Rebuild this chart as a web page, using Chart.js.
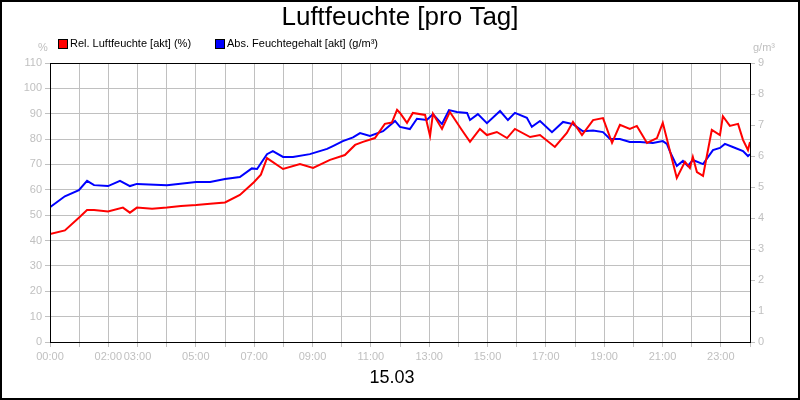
<!DOCTYPE html>
<html>
<head>
<meta charset="utf-8">
<script src="https://cdn.jsdelivr.net/npm/chart.js@4"></script>
<style>
  html, body { margin: 0; padding: 0; background: #fff; }
  #wrap { width: 800px; height: 400px; }
</style>
</head>
<body>
<div id="wrap"><canvas id="humChart" width="800" height="400"></canvas></div>
<script>
// hours of day
const relTimes = [0, 0.51, 0.99, 1.27, 1.51, 1.99, 2.5, 2.74, 2.98, 3.5, 4.01, 4.49, 5.01, 5.49, 6.0, 6.51, 6.99, 7.23, 7.44, 7.99, 8.57, 9.02, 9.6, 10.11, 10.46, 10.73, 11.14, 11.48, 11.72, 11.9, 12.0, 12.24, 12.44, 12.86, 13.03, 13.13, 13.44, 13.71, 14.12, 14.4, 14.74, 14.98, 15.32, 15.67, 15.94, 16.46, 16.8, 17.31, 17.72, 17.93, 18.24, 18.62, 18.96, 19.27, 19.54, 19.88, 20.12, 20.47, 20.81, 21.01, 21.49, 21.77, 21.94, 22.04, 22.18, 22.39, 22.69, 22.97, 23.07, 23.31, 23.59, 23.76, 23.93, 24];
const relValues = [42.6, 44, 49, 52, 52, 51.5, 53, 51, 53, 52.5, 53, 53.6, 54, 54.5, 55, 58, 63, 66, 72.5, 68.2, 70.2, 68.6, 71.8, 73.7, 77.7, 78.9, 80.4, 86, 86.5, 91.5, 90.3, 86.4, 90.3, 89.5, 81.2, 90, 84, 90.7, 83.6, 78.9, 84, 81.6, 82.8, 80.4, 84, 80.8, 81.6, 76.9, 82.4, 86.8, 81.6, 87.5, 88.3, 78.5, 85.6, 84, 85.2, 78.5, 80.4, 86.4, 64.7, 71, 68.6, 73, 67, 65.5, 83.6, 81.6, 89, 85.2, 86, 79.7, 75.7, 78.9];

const absTimes = [0, 0.51, 0.99, 1.27, 1.51, 1.99, 2.4, 2.74, 2.98, 4.01, 5.01, 5.49, 6.0, 6.51, 6.92, 7.1, 7.44, 7.64, 7.99, 8.33, 8.91, 9.5, 9.7, 10.04, 10.39, 10.63, 10.97, 11.42, 11.83, 12.0, 12.34, 12.58, 12.92, 13.13, 13.44, 13.68, 13.95, 14.3, 14.4, 14.67, 14.98, 15.43, 15.7, 15.94, 16.35, 16.52, 16.8, 17.21, 17.59, 17.93, 18.27, 18.62, 18.96, 19.2, 19.54, 19.88, 20.23, 20.67, 21.01, 21.15, 21.26, 21.49, 21.7, 21.87, 22.04, 22.39, 22.73, 22.97, 23.14, 23.41, 23.76, 23.93, 24];
const absValues = [4.35, 4.7, 4.9, 5.2, 5.06, 5.03, 5.2, 5.03, 5.1, 5.06, 5.16, 5.16, 5.26, 5.32, 5.6, 5.58, 6.06, 6.16, 5.97, 5.97, 6.06, 6.23, 6.32, 6.48, 6.6, 6.74, 6.65, 6.8, 7.13, 6.94, 6.87, 7.2, 7.16, 7.35, 7.03, 7.48, 7.42, 7.39, 7.16, 7.35, 7.06, 7.45, 7.16, 7.39, 7.23, 6.94, 7.13, 6.77, 7.1, 7.03, 6.8, 6.82, 6.77, 6.55, 6.55, 6.45, 6.45, 6.42, 6.48, 6.39, 6.13, 5.68, 5.84, 5.68, 5.87, 5.74, 6.19, 6.26, 6.39, 6.29, 6.16, 6.0, 6.06];

// only these hours get a label
const xLabelHours = [0, 2, 3, 5, 7, 9, 11, 13, 15, 17, 19, 21, 23];

const gridGrey = '#c0c0c0';
const fontName = "'Liberation Sans', Arial, sans-serif";

// title, legend, units, date and frames
const decorPlugin = {
  id: 'decor',
  afterDraw(chart) {
    const ctx = chart.ctx;
    const a = chart.chartArea;
    ctx.save();
    ctx.strokeStyle = '#000';
    ctx.lineWidth = 1;
    ctx.strokeRect(a.left + 0.5, a.top + 0.5, a.right - a.left, a.bottom - a.top);
    ctx.lineWidth = 2;
    ctx.strokeRect(1, 1, 798, 398);

    ctx.fillStyle = '#000';
    ctx.textAlign = 'center';
    ctx.textBaseline = 'middle';
    ctx.font = '26px ' + fontName;
    ctx.fillText('Luftfeuchte [pro Tag]', 400, 18);
    ctx.font = '18px ' + fontName;
    ctx.fillText('15.03', 392, 378);

    ctx.font = '11px ' + fontName;
    ctx.textAlign = 'left';
    ctx.fillStyle = '#ff0000';
    ctx.fillRect(59, 40, 8, 8);
    ctx.strokeStyle = '#000';
    ctx.lineWidth = 1;
    ctx.strokeRect(58.5, 39.5, 9, 9);
    ctx.fillStyle = '#000';
    ctx.fillText('Rel. Luftfeuchte [akt] (%)', 70, 44);
    ctx.fillStyle = '#0000ff';
    ctx.fillRect(216, 40, 8, 8);
    ctx.strokeRect(215.5, 39.5, 9, 9);
    ctx.fillStyle = '#000';
    ctx.fillText('Abs. Feuchtegehalt [akt] (g/m³)', 227, 44);

    ctx.fillStyle = gridGrey;
    ctx.fillText('%', 38, 48);
    ctx.fillText('g/m³', 753, 48);
    ctx.restore();
  }
};

new Chart(document.getElementById('humChart'), {
  type: 'line',
  data: {
    datasets: [
      {
        label: 'Rel. Luftfeuchte [akt] (%)',
        data: relTimes.map((t, i) => ({ x: t, y: relValues[i] })),
        borderColor: '#ff0000',
        borderWidth: 2,
        pointRadius: 0,
        yAxisID: 'y'
      },
      {
        label: 'Abs. Feuchtegehalt [akt] (g/m³)',
        data: absTimes.map((t, i) => ({ x: t, y: absValues[i] })),
        borderColor: '#0000ff',
        borderWidth: 2,
        pointRadius: 0,
        yAxisID: 'y2'
      }
    ]
  },
  options: {
    responsive: false,
    animation: false,
    layout: { padding: { top: 63, left: 0, right: 0, bottom: 0 } },
    plugins: { legend: { display: false }, title: { display: false }, tooltip: { enabled: false } },
    scales: {
      x: {
        type: 'linear',
        min: 0,
        max: 24,
        afterFit(s) { s.height = 58; },
        grid: { color: gridGrey, tickLength: 5, drawOnChartArea: true },
        border: { display: false },
        ticks: {
          stepSize: 1,
          autoSkip: false,
          maxRotation: 0,
          color: gridGrey,
          font: { family: fontName, size: 11 },
          callback: v => xLabelHours.includes(v) ? String(v).padStart(2, '0') + ':00' : ''
        }
      },
      y: {
        position: 'left',
        min: 0,
        max: 110,
        afterFit(s) { s.width = 50; },
        grid: { color: gridGrey, tickLength: 5 },
        border: { display: false },
        ticks: { stepSize: 10, color: gridGrey, font: { family: fontName, size: 11 } }
      },
      y2: {
        position: 'right',
        min: 0,
        max: 9,
        afterFit(s) { s.width = 50; },
        grid: { drawOnChartArea: false, color: gridGrey, tickLength: 5 },
        border: { display: false },
        ticks: { stepSize: 1, color: gridGrey, font: { family: fontName, size: 11 } }
      }
    }
  },
  plugins: [decorPlugin]
});
</script>
</body>
</html>
